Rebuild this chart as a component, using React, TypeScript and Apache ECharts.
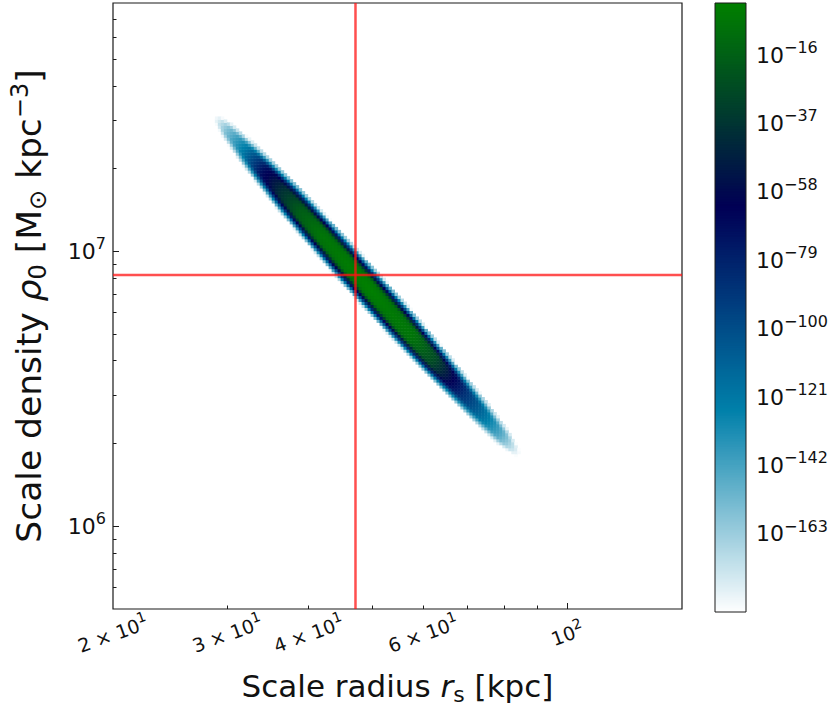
import React, { useEffect, useRef } from "react";
import * as echarts from "echarts";

const FONT = "DejaVu Sans";
const TEXT = "#111111";

// ---- axes ----
const xRange = [20, 150];
const yRange = [5e5, 8e7];
const logDensityRange = [-187, 0];

const xMajorTicks = [100];
const xMinorTicks = [30, 40, 50, 60, 70, 80, 90];
const xTickValues = [20, 30, 40, 60, 100];
const xTickBase = ["2 × 10", "3 × 10", "4 × 10", "6 × 10", "10"];
const xTickExp = ["1", "1", "1", "1", "2"];

const yMajorTicks = [1e6, 1e7];
const yMinorTicks = [6e5, 7e5, 8e5, 9e5, 2e6, 3e6, 4e6, 5e6, 6e6, 7e6, 8e6, 9e6, 2e7, 3e7, 4e7, 5e7, 6e7, 7e7];
const yTickBase = ["10", "10"];
const yTickExp = ["6", "7"];

const cbTickValues = [-163, -142, -121, -100, -79, -58, -37, -16];
const cbTickBase = ["10", "10", "10", "10", "10", "10", "10", "10"];
const cbTickExp = ["−163", "−142", "−121", "−100", "−79", "−58", "−37", "−16"];

// ---- true values (red cross) ----
const trueRs = 47.2;
const trueRho = 8.2e6;

// ---- posterior band ----
const bandTipStart = [28.7, 3.1e7]; // upper-left tip [rs, rho0]
const bandTipEnd = [84.2, 1.82e6]; // lower-right tip [rs, rho0]
// fraction along the band -> vertical half-width of the band (dex in rho0)
const widthStations = [0, 0.04, 0.11, 0.24, 0.45, 0.6, 0.75, 0.87, 0.95, 1];
const halfWidthDex = [0.016, 0.044, 0.066, 0.087, 0.096, 0.094, 0.081, 0.066, 0.048, 0.016];
// fraction along the band -> log10 density on the ridge
const peakStations = [0, 0.04, 0.1, 0.16, 0.22, 0.28, 0.35, 0.5, 0.65, 0.72, 0.77, 0.82, 0.88, 0.94, 1];
const peakLogDensity = [-187, -155, -120, -68, -38, -16, -5, 0, -5, -25, -55, -85, -115, -145, -187];
// cross-section: offset (fraction of half-width) -> fraction of the drop to the floor
const profileOffset = [0, 0.35, 0.45, 0.55, 0.63, 0.72, 0.82, 0.92, 1];
const profileDrop = [0, 0.02, 0.08, 0.2, 0.33, 0.5, 0.68, 0.86, 1];

const binsX = 190;
const binsY = 203;

// matplotlib ocean_r
const oceanR = ["#ffffff", "#80bfd4", "#0080aa", "#004080", "#000055", "#00402b", "#008000"];

function interp(xs: number[], ys: number[], x: number) {
  if (x <= xs[0]) return ys[0];
  for (let i = 1; i < xs.length; i++) {
    if (x <= xs[i]) {
      const f = (x - xs[i - 1]) / (xs[i] - xs[i - 1]);
      return ys[i - 1] + f * (ys[i] - ys[i - 1]);
    }
  }
  return ys[ys.length - 1];
}

function buildCells() {
  const uA = Math.log10(bandTipStart[0]);
  const vA = Math.log10(bandTipStart[1]);
  const uB = Math.log10(bandTipEnd[0]);
  const vB = Math.log10(bandTipEnd[1]);
  const u0 = Math.log10(xRange[0]);
  const u1 = Math.log10(xRange[1]);
  const v0 = Math.log10(yRange[0]);
  const v1 = Math.log10(yRange[1]);
  const du = (u1 - u0) / binsX;
  const dv = (v1 - v0) / binsY;
  const floor = logDensityRange[0];
  const cells: number[][] = [];
  for (let i = 0; i < binsX; i++) {
    for (let j = 0; j < binsY; j++) {
      const u = u0 + (i + 0.5) * du;
      const v = v0 + (j + 0.5) * dv;
      const X = (u - uA) / (uB - uA);
      const Y = (v - vA) / (vB - vA);
      const s = (X + Y) / 2;
      if (s < 0 || s > 1) continue;
      const hw = interp(widthStations, halfWidthDex, s);
      const t = (Math.abs(X - Y) * Math.abs(vB - vA)) / hw;
      if (t >= 1) continue;
      const peak = interp(peakStations, peakLogDensity, s);
      const val = peak - (peak - floor) * interp(profileOffset, profileDrop, t);
      if (val <= floor + 1) continue;
      cells.push([Math.pow(10, u), Math.pow(10, v), val]);
    }
  }
  return { cells, hx: Math.pow(10, du / 2), hy: Math.pow(10, dv / 2) };
}

function findIndex(values: number[], v: number) {
  for (let i = 0; i < values.length; i++) {
    const t = values[i];
    if (Math.abs(t - v) <= Math.abs(t) * 1e-6 + 1e-9) return i;
    if (t > 0 && Math.abs(Math.log10(t) - v) < 1e-6) return i;
  }
  return -1;
}

function richLabel(values: number[], bases: string[], exps: string[]) {
  return (v: number) => {
    const i = findIndex(values, v);
    if (i < 0) return "";
    return "{b|" + bases[i] + "}{s|" + exps[i] + "}";
  };
}

function tickRich(base: number, sup: number) {
  return {
    b: { fontSize: base, fontFamily: FONT, color: TEXT, lineHeight: Math.round(base * 1.4), verticalAlign: "middle" },
    s: { fontSize: sup, fontFamily: FONT, color: TEXT, lineHeight: sup, verticalAlign: "top" },
  };
}

function titleRich(size: number) {
  const small = Math.round(size * 0.7);
  const lh = Math.round(size * 1.22);
  return {
    t: { fontSize: size, fontFamily: FONT, color: TEXT, lineHeight: lh, verticalAlign: "middle" },
    i: { fontSize: size, fontFamily: FONT, color: TEXT, lineHeight: lh, verticalAlign: "middle", fontStyle: "italic" },
    sub: { fontSize: small, fontFamily: FONT, color: TEXT, lineHeight: small, verticalAlign: "bottom" },
    sup: { fontSize: small, fontFamily: FONT, color: TEXT, lineHeight: small, verticalAlign: "top" },
  };
}

export default function App() {
  const ref = useRef<HTMLDivElement>(null);
  useEffect(() => {
    const chart = echarts.init(ref.current!, null, { renderer: "svg" });
    const { cells, hx, hy } = buildCells();
    const cbCells: number[][] = [];
    for (let v = logDensityRange[0]; v < logDensityRange[1]; v += 0.5) cbCells.push([0.5, v, v + 0.25]);

    const option: any = {
      animation: false,
      backgroundColor: "#ffffff",
      grid: [
        { left: 110, top: 3, width: 572, height: 609, show: true, borderColor: "#1a1a1a", borderWidth: 1.2, backgroundColor: "transparent" },
        { left: 715, top: 3, width: 31, height: 609, show: false },
      ],
      visualMap: {
        type: "continuous",
        show: false,
        min: logDensityRange[0],
        max: logDensityRange[1],
        dimension: 2,
        seriesIndex: [0, 3],
        inRange: { color: oceanR },
      },
      xAxis: [
        {
          type: "log",
          gridIndex: 0,
          min: xRange[0],
          max: xRange[1],
          position: "bottom",
          axisLine: { show: false },
          splitLine: { show: false },
          axisTick: { show: true, inside: true, length: 6, customValues: xMajorTicks, lineStyle: { color: "#1a1a1a" } },
          axisLabel: {
            show: true,
            customValues: xTickValues,
            formatter: richLabel(xTickValues, xTickBase, xTickExp),
            rotate: 20,
            align: "center",
            verticalAlign: "middle",
            margin: 25,
            rich: tickRich(19, 14),
          },
          name: "{t|Scale radius }{i|r}{sub|s}{t| [kpc]}",
          nameLocation: "middle",
          nameGap: 58,
          nameTextStyle: { rich: titleRich(31) },
        },
        {
          type: "log",
          gridIndex: 0,
          min: xRange[0],
          max: xRange[1],
          position: "bottom",
          axisLine: { show: false },
          splitLine: { show: false },
          axisTick: { show: true, inside: true, length: 3.5, customValues: xMinorTicks, lineStyle: { color: "#1a1a1a" } },
          axisLabel: { show: false },
        },
        { type: "value", gridIndex: 1, min: 0, max: 1, show: false },
      ],
      yAxis: [
        {
          type: "log",
          gridIndex: 0,
          min: yRange[0],
          max: yRange[1],
          position: "left",
          axisLine: { show: false },
          splitLine: { show: false },
          axisTick: { show: true, inside: true, length: 6, customValues: yMajorTicks, lineStyle: { color: "#1a1a1a" } },
          axisLabel: {
            show: true,
            customValues: yMajorTicks,
            formatter: richLabel(yMajorTicks, yTickBase, yTickExp),
            margin: 7,
            rich: tickRich(22, 16),
          },
          name: "{t|Scale density }{i|ρ}{sub|0}{t| [M}{sub|⊙}{t| kpc}{sup|−3}{t|]}",
          nameLocation: "middle",
          nameGap: 63,
          nameTextStyle: { rich: titleRich(34.5) },
        },
        {
          type: "log",
          gridIndex: 0,
          min: yRange[0],
          max: yRange[1],
          position: "left",
          axisLine: { show: false },
          splitLine: { show: false },
          axisTick: { show: true, inside: true, length: 3.5, customValues: yMinorTicks, lineStyle: { color: "#1a1a1a" } },
          axisLabel: { show: false },
        },
        {
          type: "value",
          gridIndex: 1,
          min: logDensityRange[0],
          max: logDensityRange[1],
          position: "right",
          axisLine: { show: false },
          splitLine: { show: false },
          axisTick: { show: true, inside: false, length: 4, customValues: cbTickValues, lineStyle: { color: "#1a1a1a" } },
          axisLabel: {
            show: true,
            customValues: cbTickValues,
            formatter: richLabel(cbTickValues, cbTickBase, cbTickExp),
            margin: 10,
            rich: tickRich(22, 16),
          },
        },
      ],
      series: [
        {
          type: "custom",
          xAxisIndex: 0,
          yAxisIndex: 0,
          silent: true,
          clip: true,
          encode: { x: 0, y: 1 },
          data: cells,
          renderItem: (params: any, api: any) => {
            const x = api.value(0);
            const y = api.value(1);
            const p0 = api.coord([x / hx, y * hy]);
            const p1 = api.coord([x * hx, y / hy]);
            return {
              type: "rect",
              shape: { x: p0[0], y: p0[1], width: p1[0] - p0[0] + 0.5, height: p1[1] - p0[1] + 0.5 },
              style: { fill: api.visual("color") },
            };
          },
        },
        {
          type: "line",
          xAxisIndex: 0,
          yAxisIndex: 0,
          silent: true,
          symbol: "none",
          z: 5,
          lineStyle: { color: "rgba(255,20,20,0.75)", width: 2.5 },
          data: [
            [trueRs, yRange[0]],
            [trueRs, yRange[1]],
          ],
        },
        {
          type: "line",
          xAxisIndex: 0,
          yAxisIndex: 0,
          silent: true,
          symbol: "none",
          z: 5,
          lineStyle: { color: "rgba(255,20,20,0.75)", width: 2.5 },
          data: [
            [xRange[0], trueRho],
            [xRange[1], trueRho],
          ],
        },
        {
          type: "custom",
          xAxisIndex: 2,
          yAxisIndex: 2,
          silent: true,
          encode: { x: 0, y: 1 },
          data: cbCells,
          renderItem: (params: any, api: any) => {
            const v = api.value(1);
            const p0 = api.coord([0, v + 0.5]);
            const p1 = api.coord([1, v]);
            return {
              type: "rect",
              shape: { x: p0[0], y: p0[1], width: p1[0] - p0[0], height: p1[1] - p0[1] + 1 },
              style: { fill: api.visual("color") },
            };
          },
        },
      ],
      graphic: [
        {
          type: "rect",
          z: 100,
          silent: true,
          shape: { x: 715, y: 3, width: 31, height: 609 },
          style: { fill: "none", stroke: "#1a1a1a", lineWidth: 1 },
        },
      ],
    };
    chart.setOption(option);
    return () => chart.dispose();
  }, []);
  return <div ref={ref} style={{ position: "fixed", left: 0, top: 0, width: 838, height: 710 }} />;
}
